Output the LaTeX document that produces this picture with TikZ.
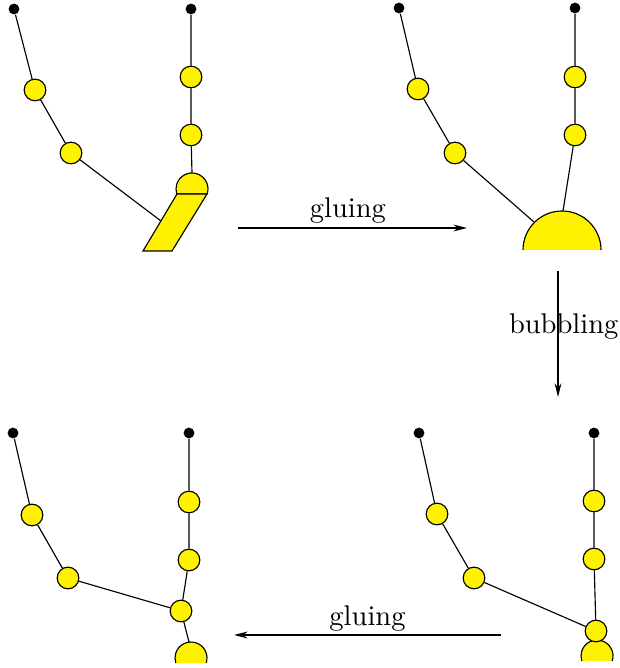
\documentclass[tikz,border=0pt]{standalone}
\usepackage{tikz}
\usetikzlibrary{arrows.meta}

\begin{document}
\begin{tikzpicture}
    [x=0.351pt, y=0.351pt,
    tip/.style={circle, fill=black, minimum size=3.8pt, inner sep=0pt},
    bead/.style={circle, draw, fill=yellow, minimum size=7.6pt, inner sep=0pt},
    capshape/.style={draw, fill=yellow},
    arrow/.style={->, >={Stealth[length=4.8pt, width=2.4pt]}}]
    \useasboundingbox (0,0) rectangle (619,668);

    % caps and stick
    \coordinate (p1cap) at (192,479);
    \filldraw [capshape] ([shift={(-18.2:16)}]p1cap) arc [start angle=-18.2, end angle=198.2, radius=16] -- cycle;
    \filldraw [capshape] (177,474) -- (207,474) -- (172,417) -- (143,417) -- cycle;
    \coordinate (p2cap) at (562,418);
    \filldraw [capshape] ([shift={(0:39)}]p2cap) arc [start angle=0, end angle=180, radius=39];
    \coordinate (p3cap) at (597,12);
    \filldraw [capshape] ([shift={(-18.2:16)}]p3cap) arc [start angle=-18.2, end angle=198.2, radius=16];
    \coordinate (p4cap) at (191,10);
    \filldraw [capshape] ([shift={(-18.2:16)}]p4cap) arc [start angle=-18.2, end angle=198.2, radius=16];

    \coordinate (p1stick) at (161,447);
    \coordinate (p1top) at (192,495);
    \coordinate (p2west) at (534,446);
    \coordinate (p2top) at (563,457);
    \coordinate (p4top) at (189,26);

    % top left
    \node [tip] (p1l0) at (14,659) {};
    \node [bead] (p1l1) at (35,578) {};
    \node [bead] (p1l2) at (71,515) {};
    \node [tip] (p1r0) at (191,659) {};
    \node [bead] (p1r1) at (191,591) {};
    \node [bead] (p1r2) at (191,533) {};
    % top right
    \node [tip] (p2l0) at (399,660) {};
    \node [bead] (p2l1) at (418,579) {};
    \node [bead] (p2l2) at (455,515) {};
    \node [tip] (p2r0) at (575,660) {};
    \node [bead] (p2r1) at (575,591) {};
    \node [bead] (p2r2) at (575,533) {};
    % bottom right
    \node [tip] (p3l0) at (419,235) {};
    \node [bead] (p3l1) at (437,154) {};
    \node [bead] (p3l2) at (474,90) {};
    \node [tip] (p3r0) at (594,235) {};
    \node [bead] (p3r1) at (594,167) {};
    \node [bead] (p3r2) at (594,109) {};
    \node [bead] (p3j) at (596,37) {};
    % bottom left
    \node [tip] (p4l0) at (13,235) {};
    \node [bead] (p4l1) at (32,153) {};
    \node [bead] (p4l2) at (68,90) {};
    \node [tip] (p4r0) at (189,235) {};
    \node [bead] (p4r1) at (189,166) {};
    \node [bead] (p4r2) at (189,108) {};
    \node [bead] (p4j) at (181,57) {};

    \draw (p1l0) -- (p1l1) -- (p1l2) -- (p1stick);
    \draw (p1r0) -- (p1r1) -- (p1r2) -- (p1top);
    \draw (p2l0) -- (p2l1) -- (p2l2) -- (p2west);
    \draw (p2r0) -- (p2r1) -- (p2r2) -- (p2top);
    \draw (p3l0) -- (p3l1) -- (p3l2) -- (p3j);
    \draw (p3r0) -- (p3r1) -- (p3r2) -- (p3j);
    \draw (p4l0) -- (p4l1) -- (p4l2) -- (p4j);
    \draw (p4r0) -- (p4r1) -- (p4r2) -- (p4j);
    \draw (p4j) -- (p4top);

    % moves
    \coordinate (glue1a) at (238,440);
    \coordinate (glue1b) at (467,440);
    \coordinate (bub1a) at (558,397);
    \coordinate (bub1b) at (558,271);
    \coordinate (glue2a) at (501,33);
    \coordinate (glue2b) at (234,33);
    \draw [arrow] (glue1a) -- node (lab1) [pos=0.48, above, inner sep=1.5pt] {gluing} (glue1b);
    \draw [arrow] (bub1a) -- node (lab2) [pos=0.44, xshift=2pt] {bubbling} (bub1b);
    \draw [arrow] (glue2a) -- node (lab3) [above, inner sep=1pt] {gluing} (glue2b);
\end{tikzpicture}
\end{document}
